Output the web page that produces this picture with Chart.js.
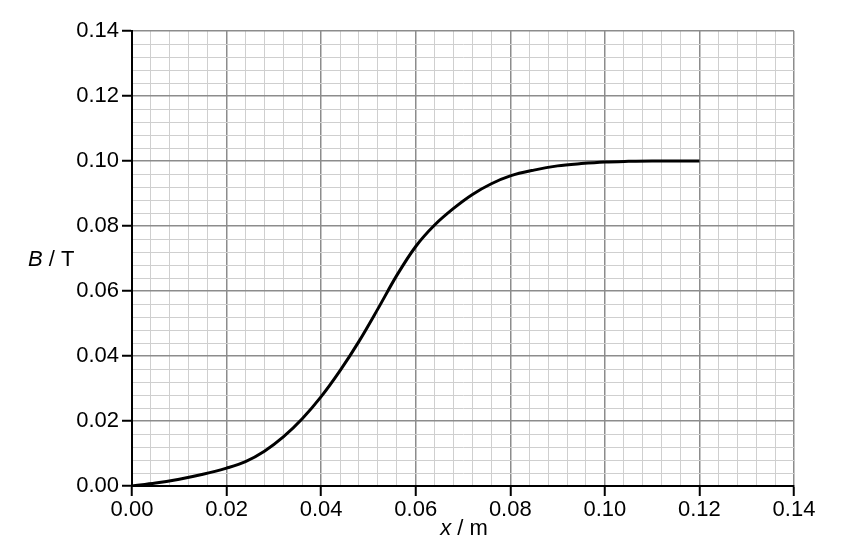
<!DOCTYPE html>
<html>
<head>
<meta charset="utf-8">
<script src="https://cdn.jsdelivr.net/npm/chart.js@4"></script>
<style>
  body { margin: 0; background: #fff; }
  #wrap { width: 854px; height: 552px; }
</style>
</head>
<body>
<div id="wrap"><canvas id="myChart" width="854" height="552"></canvas></div>
<script>
// x / m and B / T
var xValues = [0, 0.005, 0.01, 0.015, 0.02, 0.024, 0.028, 0.032, 0.036, 0.04, 0.044, 0.048, 0.052, 0.056,
               0.06, 0.064, 0.068, 0.072, 0.076, 0.08, 0.085, 0.09, 0.095, 0.10, 0.105, 0.11, 0.115, 0.12];
var bValues = [0, 0.0009, 0.0021, 0.0036, 0.0055, 0.0075, 0.0107, 0.0151, 0.0207, 0.0275, 0.0355, 0.0445, 0.0545, 0.0648,
               0.0737, 0.0803, 0.0854, 0.0897, 0.0930, 0.0954, 0.0972, 0.0985, 0.0992, 0.0997, 0.0999, 0.1000, 0.1000, 0.1000];
var axisMin = 0, axisMax = 0.14, minorStep = 0.004, majorStep = 0.02;

var FONT = "'Liberation Sans', Arial, sans-serif";

var isMajor = function(v) {
    var r = v / majorStep;
    return Math.abs(r - Math.round(r)) < 1e-6;
};
var tickLabel = function(v) {
    return isMajor(v) ? v.toFixed(2) : '';
};

var points = xValues.map(function(x, i) { return { x: x, y: bValues[i] }; });

// axis titles with italic symbol, drawn by hand
var axisTitles = {
    id: 'axisTitles',
    afterDraw: function(chart) {
        var ctx = chart.ctx;
        ctx.save();
        ctx.fillStyle = '#000';
        ctx.textBaseline = 'alphabetic';
        ctx.textAlign = 'left';
        // B / T
        ctx.font = 'italic 22px ' + FONT;
        var x = 28;
        ctx.fillText('B', x, 266);
        x += ctx.measureText('B').width;
        ctx.font = '22px ' + FONT;
        ctx.fillText(' / T', x, 266);
        // x / m
        ctx.font = 'italic 22px ' + FONT;
        var w1 = ctx.measureText('x').width;
        ctx.font = '22px ' + FONT;
        var w2 = ctx.measureText(' / m').width;
        var sx = 464 - (w1 + w2) / 2;
        ctx.font = 'italic 22px ' + FONT;
        ctx.fillText('x', sx, 535);
        ctx.font = '22px ' + FONT;
        ctx.fillText(' / m', sx + w1, 535);
        ctx.restore();
    }
};

var gridOpts = {
    color: function(c) { return isMajor(c.tick.value) ? '#8c8c8c' : '#cfcfcf'; },
    lineWidth: function(c) { return isMajor(c.tick.value) ? 1.5 : 1; },
    tickColor: function(c) { return isMajor(c.tick.value) ? '#000' : 'rgba(0,0,0,0)'; },
    tickWidth: 2,
    tickLength: 10
};

new Chart(document.getElementById('myChart'), {
    type: 'scatter',
    data: {
        datasets: [{
            data: points,
            showLine: true,
            borderColor: '#000',
            borderWidth: 3,
            pointRadius: 0,
            cubicInterpolationMode: 'monotone',
            fill: false
        }]
    },
    options: {
        responsive: false,
        animation: false,
        layout: { padding: { top: 31, right: 60, left: 0, bottom: 0 } },
        plugins: { legend: { display: false }, tooltip: { enabled: false } },
        scales: {
            x: {
                type: 'linear',
                min: axisMin, max: axisMax,
                grid: gridOpts,
                border: { color: '#000', width: 2 },
                ticks: {
                    stepSize: minorStep,
                    autoSkip: false,
                    maxRotation: 0,
                    padding: 1,
                    color: '#000',
                    font: { family: FONT, size: 22 },
                    callback: tickLabel
                },
                afterFit: function(scale) { scale.height = 66; }
            },
            y: {
                type: 'linear',
                min: axisMin, max: axisMax,
                grid: gridOpts,
                border: { color: '#000', width: 2 },
                ticks: {
                    stepSize: minorStep,
                    autoSkip: false,
                    padding: 3,
                    color: '#000',
                    font: { family: FONT, size: 22 },
                    callback: tickLabel
                },
                afterFit: function(scale) { scale.width = 132; }
            }
        }
    },
    plugins: [axisTitles]
});
</script>
</body>
</html>
